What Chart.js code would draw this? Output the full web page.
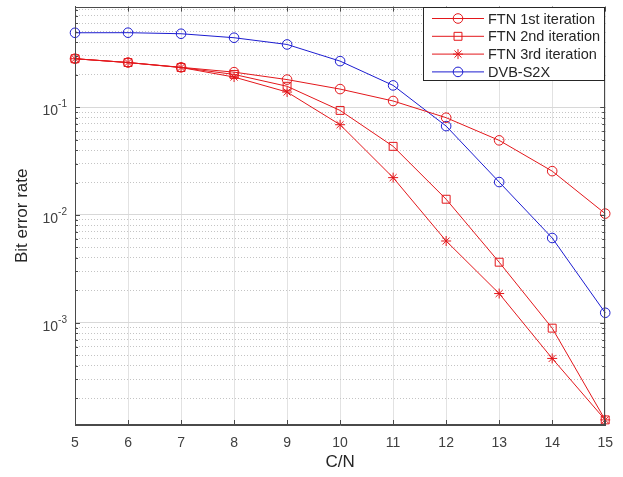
<!DOCTYPE html>
<html>
<head>
<meta charset="utf-8">
<script src="https://cdn.jsdelivr.net/npm/chart.js@4.4.0/dist/chart.umd.min.js"></script>
<style>
    html, body { margin: 0; padding: 0; background: #fff; }
    #wrap { width: 623px; height: 477px; }
</style>
</head>
<body>
<div id="wrap"><canvas id="ber"></canvas></div>
<script>
// C/N points and BER values
const cnValues = [5, 6, 7, 8, 9, 10, 11, 12, 13, 14, 15];
const ftn1st = [0.281, 0.259, 0.234, 0.211, 0.180, 0.147, 0.114, 0.0798, 0.0492, 0.0255, 0.0103];
const ftn2nd = [0.281, 0.259, 0.233, 0.201, 0.156, 0.0932, 0.0433, 0.0140, 0.00365, 0.000893, 0.000126];
const ftn3rd = [0.281, 0.259, 0.233, 0.190, 0.138, 0.0687, 0.0222, 0.00574, 0.00187, 0.000468, 0.000126];
const dvbS2x = [0.489, 0.490, 0.479, 0.440, 0.381, 0.267, 0.159, 0.0667, 0.0202, 0.00612, 0.00124];
const seriesNames = ["FTN 1st iteration", "FTN 2nd iteration", "FTN 3rd iteration", "DVB-S2X"];
const decadeTicks = [1e-3, 1e-2, 1e-1];
const yMin = 1.13e-4, yMax = 0.855;

const fontFam = "'Liberation Sans', Arial, Helvetica, sans-serif";
const red = "#e3171b";
const blue = "#1c1cd0";
const axisColor = "#4a4a4a";

function toPoints(arr){
    return cnValues.map((x, i) => ({x: x, y: arr[i]}));
}

function isDecade(v){
    const l = Math.log10(v);
    return Math.abs(l - Math.round(l)) < 1e-6;
}

function isWholeStep(v){
    const m = v / Math.pow(10, Math.floor(Math.log10(v) + 1e-9));
    return Math.abs(m - Math.round(m)) < 1e-6;
}

function drawMarker(ctx, style, x, y, r){
    ctx.beginPath();
    if (style === 'circle') {
        ctx.arc(x, y, r, 0, Math.PI * 2);
    } else if (style === 'rect') {
        const s = r * Math.SQRT2 / 2;
        ctx.rect(x - s, y - s, s * 2, s * 2);
    } else if (style === 'star') {
        for (let k = 0; k < 4; k++) {
            const a = k * Math.PI / 4;
            ctx.moveTo(x - Math.cos(a) * r, y - Math.sin(a) * r);
            ctx.lineTo(x + Math.cos(a) * r, y + Math.sin(a) * r);
        }
    }
    ctx.stroke();
}

const matlabFrame = {
    id: 'matlabFrame',
    afterDraw(chart){
        const ctx = chart.ctx;
        const a = chart.chartArea;
        const xs = chart.scales.x, ys = chart.scales.y;
        ctx.save();

        // box round the axes
        ctx.strokeStyle = axisColor;
        ctx.lineWidth = 1;
        ctx.strokeRect(Math.round(a.left) + 0.5, Math.round(a.top) + 0.5,
            Math.round(a.right - a.left) - 1, Math.round(a.bottom - a.top) - 1);

        // inward tick marks
        ctx.beginPath();
        xs.ticks.forEach(t => {
            const px = Math.round(xs.getPixelForValue(t.value)) + 0.5;
            ctx.moveTo(px, a.bottom); ctx.lineTo(px, a.bottom - 5);
            ctx.moveTo(px, a.top); ctx.lineTo(px, a.top + 5);
        });
        ys.ticks.forEach(t => {
            if (!isWholeStep(t.value)) return;
            const len = isDecade(t.value) ? 5 : 3;
            const py = Math.round(ys.getPixelForValue(t.value)) + 0.5;
            ctx.moveTo(a.left, py); ctx.lineTo(a.left + len, py);
            ctx.moveTo(a.right, py); ctx.lineTo(a.right - len, py);
        });
        ctx.stroke();

        // y tick labels as 10 with a raised exponent
        ctx.fillStyle = "#404040";
        ctx.textBaseline = 'middle';
        decadeTicks.forEach(v => {
            const py = ys.getPixelForValue(v);
            const exp = String(Math.round(Math.log10(v)));
            ctx.font = "10px " + fontFam;
            const ew = ctx.measureText(exp).width;
            const right = a.left - 8;
            ctx.textAlign = 'left';
            ctx.fillText(exp, right - ew, py - 3);
            ctx.font = "14px " + fontFam;
            ctx.textAlign = 'right';
            ctx.fillText("10", right - ew, py + 4);
        });

        // legend in the top right corner
        const boxW = 181, boxH = 73;
        const bx = Math.round(a.right) - 1 - boxW, by = Math.round(a.top);
        ctx.fillStyle = "#fff";
        ctx.fillRect(bx, by, boxW, boxH);
        ctx.strokeStyle = "#262626";
        ctx.strokeRect(bx + 0.5, by + 0.5, boxW, boxH);
        chart.data.datasets.forEach((ds, i) => {
            const ry = by + 11.5 + i * 17.8;
            ctx.strokeStyle = ds.borderColor;
            ctx.lineWidth = 1;
            ctx.beginPath();
            ctx.moveTo(bx + 9, ry); ctx.lineTo(bx + 61, ry);
            ctx.stroke();
            drawMarker(ctx, ds.pointStyle, bx + 35, ry, ds.pointRadius);
            ctx.fillStyle = "#262626";
            ctx.font = "14.5px " + fontFam;
            ctx.textAlign = 'left';
            ctx.textBaseline = 'middle';
            ctx.fillText(ds.label, bx + 65, ry + 1);
        });
        ctx.restore();
    }
};

function makeSet(label, arr, color, style, r){
    return {
        label: label,
        data: toPoints(arr),
        borderColor: color,
        backgroundColor: color,
        pointBorderColor: color,
        pointBackgroundColor: "rgba(0,0,0,0)",
        pointStyle: style,
        pointRadius: r,
        pointBorderWidth: 1,
        borderWidth: 1,
        tension: 0,
        clip: false
    };
}

const berChart = new Chart(document.getElementById('ber').getContext('2d'), {
    type: 'line',
    data: {
        datasets: [
            makeSet(seriesNames[0], ftn1st, red, 'circle', 4.8),
            makeSet(seriesNames[1], ftn2nd, red, 'rect', 5.6),
            makeSet(seriesNames[2], ftn3rd, red, 'star', 5),
            makeSet(seriesNames[3], dvbS2x, blue, 'circle', 4.8)
        ]
    },
    options: {
        responsive: true,
        maintainAspectRatio: false,
        animation: false,
        devicePixelRatio: 1,
        layout: { padding: { top: 6, right: 17, left: 0, bottom: 0 } },
        plugins: {
            legend: { display: false },
            tooltip: { enabled: false }
        },
        scales: {
            x: {
                type: 'linear',
                min: 5,
                max: 15,
                ticks: {
                    stepSize: 1,
                    color: "#404040",
                    font: { family: fontFam, size: 14 },
                    padding: 10,
                    maxRotation: 0
                },
                grid: { color: "#e2e2e2", drawTicks: false },
                border: { color: axisColor },
                title: {
                    display: true,
                    text: "C/N",
                    color: "#262626",
                    font: { family: fontFam, size: 17 },
                    padding: { top: 0, bottom: 4 }
                },
                afterFit: function(scale){ scale.height = 52; }
            },
            y: {
                type: 'logarithmic',
                min: yMin,
                max: yMax,
                ticks: { display: false },
                grid: {
                    drawTicks: false,
                    color: function(ctx){
                        if (!ctx.tick) return "rgba(0,0,0,0)";
                        const v = ctx.tick.value;
                        if (isDecade(v)) return "#d8d8d8";
                        if (isWholeStep(v)) return "#c4c4c4";
                        return "rgba(0,0,0,0)";
                    }
                },
                border: {
                    color: axisColor,
                    dash: function(ctx){
                        if (ctx.tick && !isDecade(ctx.tick.value)) return [1, 2];
                        return [];
                    }
                },
                title: {
                    display: true,
                    text: "Bit error rate",
                    color: "#262626",
                    font: { family: fontFam, size: 17 },
                    padding: { top: 12, bottom: 0 }
                },
                afterFit: function(scale){ scale.width = 75; }
            }
        }
    },
    plugins: [matlabFrame]
});
</script>
</body>
</html>
